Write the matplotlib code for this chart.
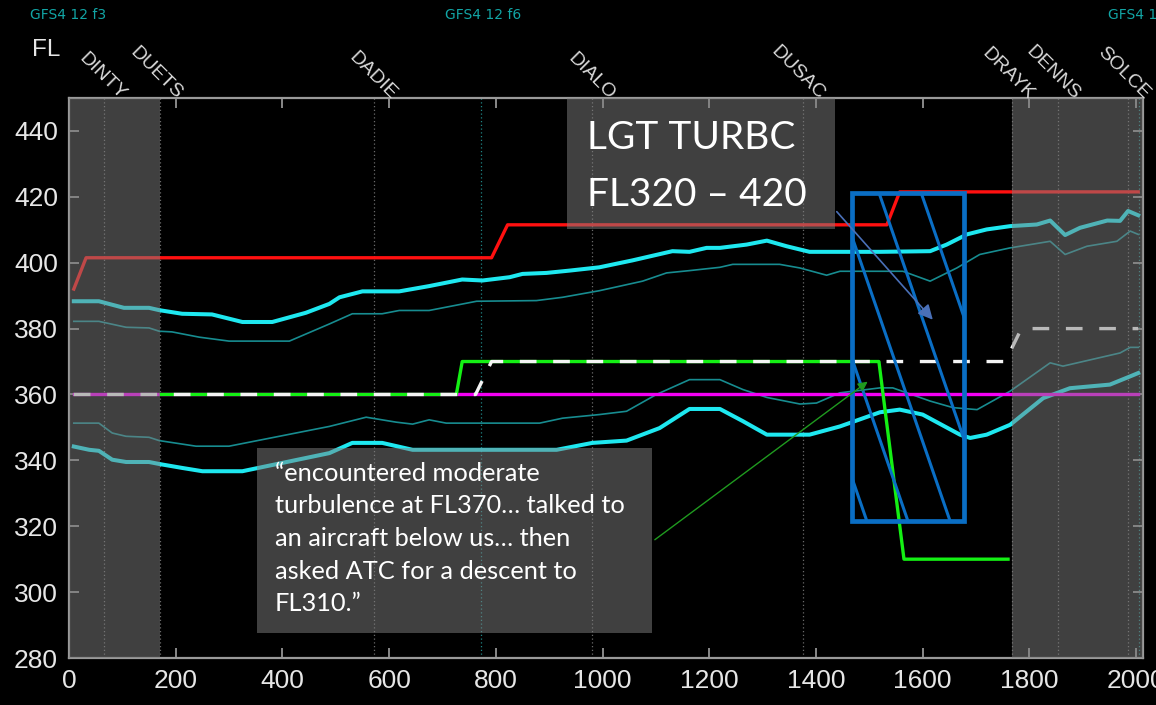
import numpy as np
import matplotlib
matplotlib.use('Agg')
import matplotlib.pyplot as plt
from matplotlib.patches import Rectangle

plt.rcParams['font.family'] = ['Liberation Sans', 'DejaVu Sans']

# route waypoints (distance along track) and forecast boundaries
waypoints = ['DINTY', 'DUETS', 'DADIE', 'DIALO', 'DUSAC', 'DRAYK', 'DENNS', 'SOLCE']
waypoint_x = [66, 171, 572, 981, 1375, 1767, 1854, 1985]
forecast_x = [773, 2005]
forecast_labels = ['GFS4 12 f3', 'GFS4 12 f6', 'GFS4 12 f9']

# shaded (out of window) spans
shade_spans = [(0, 171), (1767, 2013)]

# red: flight ceiling
red_x = [9, 32, 792, 822, 1533, 1557, 2004]
red_y = [392, 401.5, 401.5, 411.5, 411.5, 421.5, 421.5]

# thick cyan upper boundary
cyan_hi_x = [9, 56, 103, 150, 169, 212, 268, 325, 381, 444, 488, 507, 550, 619, 675,
             737, 775, 826, 850, 895, 938, 994, 1056, 1131, 1163, 1195, 1220, 1270,
             1308, 1345, 1388, 1520, 1614, 1645, 1683, 1720, 1764, 1814, 1839, 1867,
             1895, 1946, 1970, 1985, 2004]
cyan_hi_y = [388.3, 388.3, 386.3, 386.3, 385.6, 384.5, 384.3, 382, 382, 384.8, 387.5,
             389.5, 391.3, 391.3, 392.9, 394.9, 394.6, 395.6, 396.6, 396.9, 397.6, 398.6,
             400.7, 403.5, 403.3, 404.5, 404.5, 405.5, 406.7, 405, 403.3, 403.3, 403.5,
             405.5, 408.6, 410.1, 411.1, 411.6, 412.8, 408.4, 410.6, 412.8, 412.7, 415.7,
             414.4]

# thin teal upper
teal_hi_x = [9, 56, 107, 150, 169, 193, 244, 300, 413, 488, 531, 587, 619, 675, 764,
             876, 925, 994, 1075, 1120, 1163, 1220, 1244, 1332, 1370, 1420, 1445, 1563,
             1614, 1664, 1707, 1764, 1839, 1867, 1908, 1964, 1989, 2004]
teal_hi_y = [382.2, 382.2, 380.4, 380.2, 379.2, 379, 377.4, 376.2, 376.2, 381.4, 384.5,
             384.5, 385.5, 385.5, 388.3, 388.5, 389.5, 391.5, 394.4, 396.9, 397.6, 398.6,
             399.5, 399.5, 398.4, 396.2, 397.4, 397.4, 394.4, 398.4, 402.5, 404.5, 406.5,
             402.5, 405, 406.5, 409.6, 408.6]

# thin teal lower
teal_lo_x = [9, 56, 81, 107, 150, 169, 238, 300, 488, 557, 613, 644, 675, 707, 882,
             925, 994, 1045, 1101, 1163, 1220, 1263, 1308, 1370, 1401, 1445, 1520, 1544,
             1614, 1657, 1702, 1764, 1839, 1863, 1970, 1989, 2004]
teal_lo_y = [351.3, 351.3, 348.3, 347.3, 347, 346, 344.3, 344.3, 350.3, 353.1, 351.6,
             351, 352.3, 351.3, 351.3, 352.8, 353.9, 354.9, 360, 364.5, 364.5, 361.5,
             359.1, 357.1, 357.4, 360.5, 362, 362, 358, 356, 355.4, 361, 369.6, 368.6,
             372.6, 374.3, 374.3]

# thick cyan lower boundary
cyan_lo_x = [9, 38, 56, 81, 107, 150, 169, 212, 250, 325, 488, 531, 587, 644, 914, 981,
             1045, 1107, 1163, 1220, 1263, 1308, 1388, 1445, 1520, 1557, 1600, 1670, 1689,
             1720, 1764, 1826, 1876, 1951, 1989, 2004]
cyan_lo_y = [344.2, 343.2, 342.9, 340.2, 339.5, 339.5, 338.9, 337.7, 336.7, 336.7, 342.2,
             345.3, 345.3, 343.2, 343.2, 345.3, 346, 349.8, 355.6, 355.6, 351.9, 347.8,
             347.8, 350.3, 354.6, 355.4, 353.9, 347.8, 346.8, 347.8, 350.8, 358.9, 361.9,
             363, 365.5, 366.5]

# flown / planned profiles
magenta_x = [9, 2004]
magenta_y = [360, 360]
green_x = [173, 726, 737, 1518, 1565, 1760]
green_y = [360, 360, 370, 370, 310, 310]
plan_x = [9, 762, 792, 1755, 1785, 2004]
plan_y = [360, 360, 370, 370, 380, 380]

# turbulence report area
turb_x0, turb_x1 = 1467, 1677
turb_y0, turb_y1 = 321.6, 421.3
hatch_x_top = [1283, 1360, 1439, 1518, 1597]
hatch_slope = 2.13

turb_lines = ['LGT TURBC', 'FL320 \u2013 420']
quote_lines = ['\u201cencountered moderate',
               'turbulence at FL370\u2026 talked to',
               'an aircraft below us\u2026 then',
               'asked ATC for a descent to',
               'FL310.\u201d']

W, H = 1156, 705
fig = plt.figure(figsize=(W / 100, H / 100), dpi=100, facecolor='black')
ax = fig.add_axes([69 / W, 47 / H, 1074 / W, 560 / H], facecolor='black')

for wx in waypoint_x:
    ax.axvline(wx, color='#6a6a6a', lw=0.9, ls=(0, (1, 2)), zorder=1)
for fx in forecast_x:
    ax.axvline(fx, color='#1f8585', lw=0.9, ls=(0, (1, 2)), zorder=1)
ax.axvline(0, color='#1f8585', lw=1.2, zorder=1)

ax.plot(teal_hi_x, teal_hi_y, color='#178c90', lw=1.2, zorder=2)
ax.plot(teal_lo_x, teal_lo_y, color='#178c90', lw=1.2, zorder=2)
ax.plot(cyan_hi_x, cyan_hi_y, color='#1ee8f0', lw=2.9, zorder=2)
ax.plot(cyan_lo_x, cyan_lo_y, color='#1ee8f0', lw=2.9, zorder=2)
ax.plot(red_x, red_y, color='#ff1010', lw=2.4, zorder=3)
ax.plot(magenta_x, magenta_y, color='#f400f4', lw=2.4, zorder=3)
ax.plot(green_x, green_y, color='#14f014', lw=2.4, zorder=3.2)
ax.plot(plan_x, plan_y, color='#f4f4f4', lw=2.4, ls=(0, (5, 5)), zorder=3.4)

for x0, x1 in shade_spans:
    ax.axvspan(x0, x1, color='#808080', alpha=0.5, lw=0, zorder=5)

# text boxes
ax.add_patch(Rectangle((934, 410.1), 501, 39.9, facecolor='#808080', alpha=0.5,
                       lw=0, zorder=5))
ax.add_patch(Rectangle((353, 287.6), 739, 56.2, facecolor='#808080', alpha=0.5,
                       lw=0, zorder=5))

# hatched turbulence box
clip = Rectangle((turb_x0, turb_y0), turb_x1 - turb_x0, turb_y1 - turb_y0,
                 transform=ax.transData)
for xt in hatch_x_top:
    ln, = ax.plot([xt, xt + hatch_slope * (turb_y1 - turb_y0)], [turb_y1, turb_y0],
                  color='#0a6ec4', lw=2.2, zorder=6)
    ln.set_clip_path(clip)
ax.add_patch(Rectangle((turb_x0, turb_y0), turb_x1 - turb_x0, turb_y1 - turb_y0,
                       fill=False, edgecolor='#0a6ec4', lw=3.4, zorder=6))

ax.annotate('', xy=(1619, 382.7), xytext=(1439, 415.5),
            arrowprops=dict(arrowstyle='-|>', color='#4a70b8', lw=1.2,
                            mutation_scale=22, shrinkA=0, shrinkB=0), zorder=7)
ax.annotate('', xy=(1497, 363.9), xytext=(1098, 315.9),
            arrowprops=dict(arrowstyle='-|>', color='#1f9a1f', lw=1.0,
                            mutation_scale=14, shrinkA=0, shrinkB=0), zorder=7)

for line, yb in zip(turb_lines, [434.4, 417.1]):
    ax.text(970, yb, line, fontsize=28, color='white', va='baseline', ha='left',
            family=['Lato', 'DejaVu Sans'], zorder=8)
for line, yb in zip(quote_lines, [333.8, 324.0, 314.0, 304.1, 294.3]):
    ax.text(386, yb, line, fontsize=18.3, color='white', va='baseline', ha='left',
            family=['Lato', 'DejaVu Sans'], zorder=8)

ax.set_xlim(0, 2013)
ax.set_ylim(280, 450)
ax.set_xticks(np.arange(0, 2001, 200))
ax.set_yticks(np.arange(280, 441, 20))
for s in ax.spines.values():
    s.set_color('#9a9a9a')
    s.set_linewidth(1.6)
ax.tick_params(direction='in', length=7, width=1.2, color='#a0a0a0', top=True,
               right=True, labelsize=19, labelcolor='#e6e6e6', pad=8)

for name, wx in zip(waypoints, waypoint_x):
    ax.annotate(name, xy=(wx, 1), xycoords=('data', 'axes fraction'),
                xytext=(11.5, -1.5), textcoords='offset points', rotation=-45,
                rotation_mode='anchor', ha='right', va='baseline', fontsize=14,
                color='#d9d9d9', annotation_clip=False)

fig.text(32 / W, 1 - 50 / H, 'FL', fontsize=17.5, color='#e6e6e6', va='center', ha='left')
for lab, px in zip(forecast_labels, [30, 445, 1108]):
    fig.text(px / W, 1 - 15 / H, lab, fontsize=10, color='#12a5a5', va='center',
             ha='left', family=['Liberation Sans Narrow', 'DejaVu Sans'])

fig.savefig('out.png', dpi=100, facecolor='black')
